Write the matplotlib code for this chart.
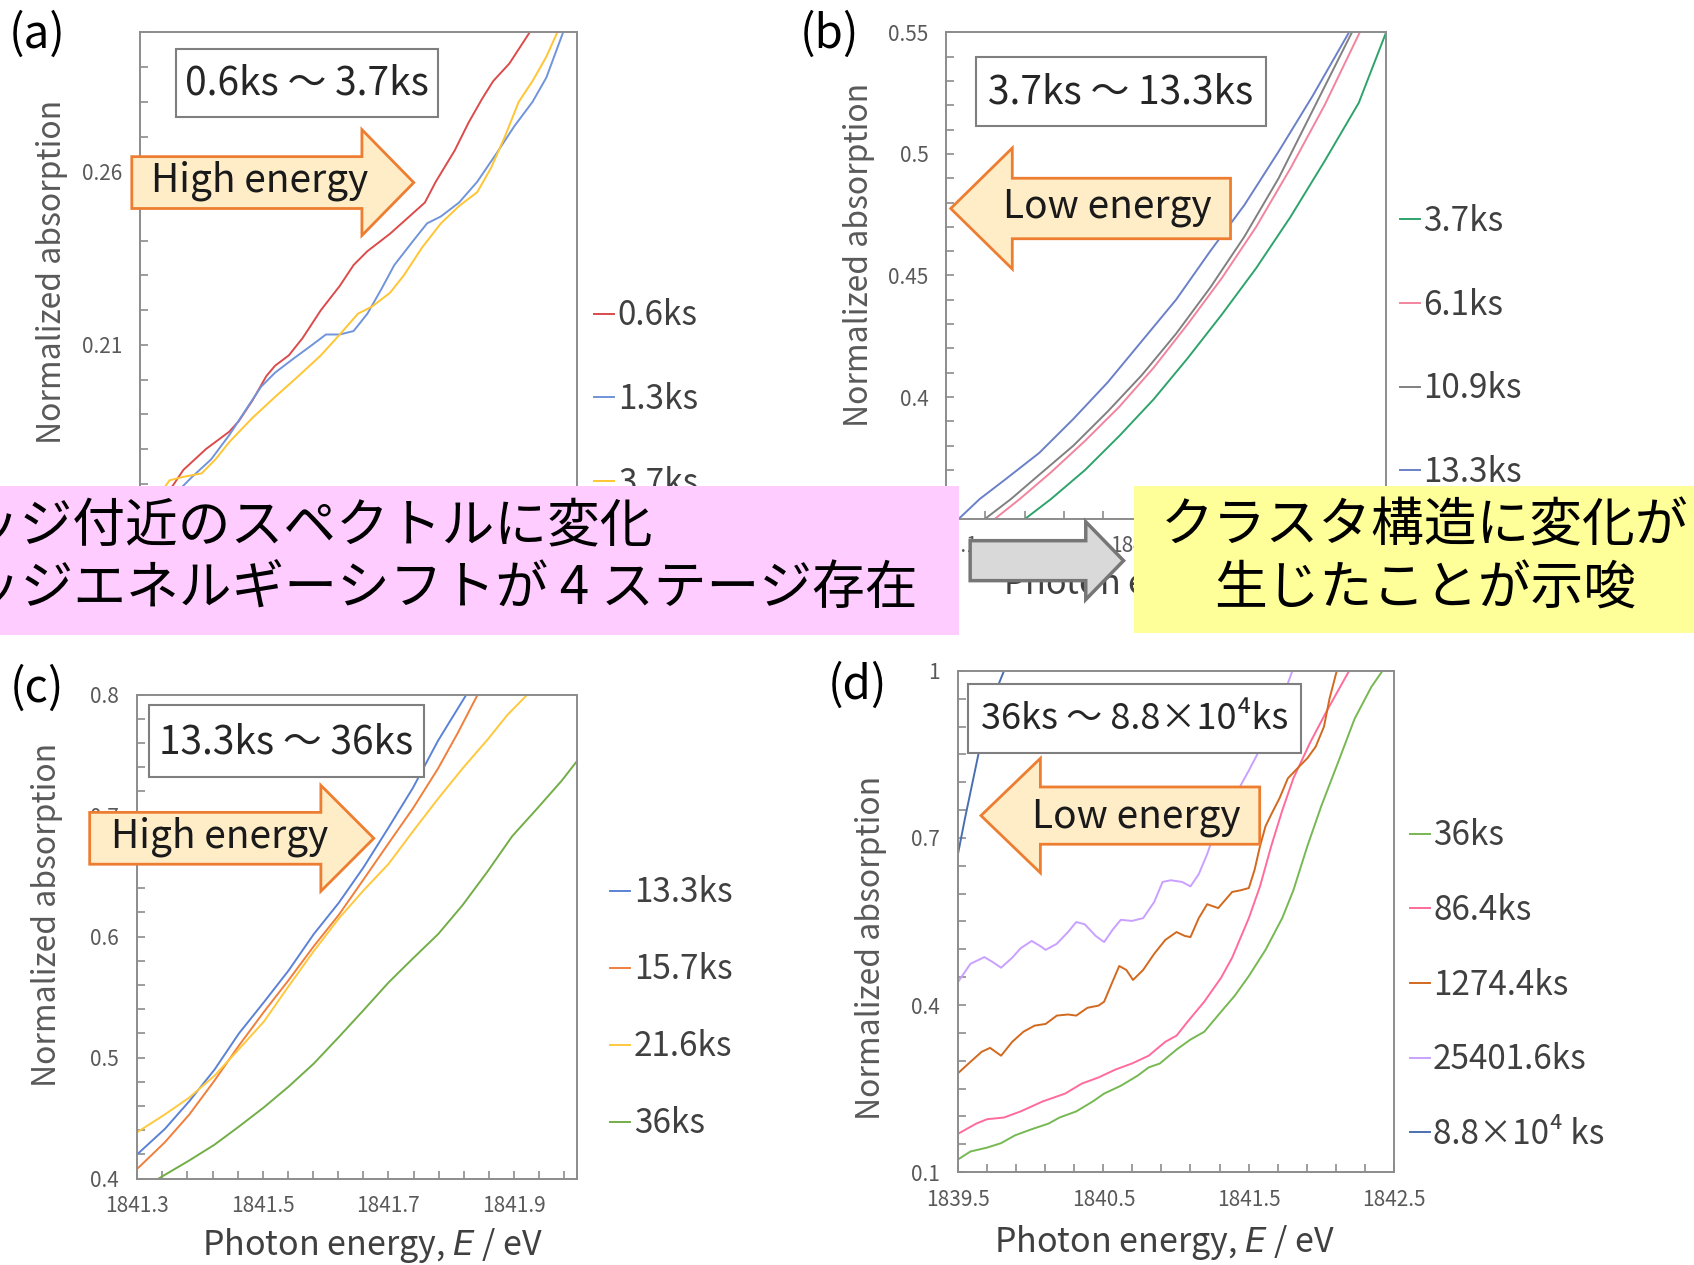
import matplotlib
matplotlib.use("Agg")
import matplotlib.pyplot as plt
import numpy as np
from matplotlib.patches import Rectangle, Polygon
from matplotlib.transforms import Affine2D

plt.rcParams['font.family'] = ['Noto Sans CJK JP', 'DejaVu Sans']
plt.rcParams['mathtext.fontset'] = 'dejavusans'

# ---------------------------------------------------------------- data ----
# (a) 0.6ks ~ 3.7ks
a_labels = ["0.6ks", "1.3ks", "3.7ks"]
a_colors = ["#DC4B4B", "#7094DB", "#FFC533"]
a_x_06 = [1840.913, 1840.943, 1840.959, 1840.990, 1841.022, 1841.035, 1841.054, 1841.073,
          1841.085, 1841.104, 1841.123, 1841.148, 1841.174, 1841.193, 1841.212, 1841.243,
          1841.275, 1841.291, 1841.306, 1841.332, 1841.351, 1841.370, 1841.385, 1841.407, 1841.435]
a_y_06 = [0.160, 0.169, 0.174, 0.180, 0.185, 0.188, 0.194, 0.201, 0.204, 0.207, 0.212, 0.220,
          0.227, 0.233, 0.237, 0.242, 0.248, 0.251, 0.257, 0.266, 0.274, 0.281, 0.286, 0.291, 0.300]
a_x_13 = [1840.915, 1840.952, 1840.971, 1840.997, 1841.022, 1841.047, 1841.066, 1841.085,
          1841.110, 1841.136, 1841.155, 1841.174, 1841.193, 1841.212, 1841.231, 1841.249,
          1841.275, 1841.294, 1841.313, 1841.338, 1841.363, 1841.389, 1841.414, 1841.439,
          1841.458, 1841.481]
a_y_13 = [0.160, 0.168, 0.172, 0.177, 0.184, 0.192, 0.198, 0.202, 0.206, 0.210, 0.213, 0.213,
          0.214, 0.219, 0.226, 0.233, 0.240, 0.245, 0.247, 0.251, 0.257, 0.265, 0.273, 0.280,
          0.287, 0.300]
a_x_37 = [1840.918, 1840.930, 1840.940, 1840.959, 1840.984, 1841.003, 1841.022, 1841.054,
          1841.085, 1841.117, 1841.148, 1841.174, 1841.199, 1841.218, 1841.243, 1841.262,
          1841.287, 1841.313, 1841.338, 1841.363, 1841.382, 1841.401, 1841.420, 1841.439,
          1841.458, 1841.473]
a_y_37 = [0.160, 0.168, 0.171, 0.172, 0.173, 0.177, 0.182, 0.189, 0.195, 0.201, 0.207, 0.213,
          0.219, 0.221, 0.225, 0.230, 0.238, 0.245, 0.250, 0.254, 0.261, 0.270, 0.280, 0.286,
          0.293, 0.300]

# (b) 3.7ks ~ 13.3ks
b_labels = ["3.7ks", "6.1ks", "10.9ks", "13.3ks"]
b_colors = ["#2EA36B", "#F2849E", "#808080", "#6A80C8"]
b_x_37 = [1841.181, 1841.207, 1841.242, 1841.277, 1841.312, 1841.347, 1841.382, 1841.417,
          1841.452, 1841.487, 1841.522, 1841.550]
b_y_37 = [0.350, 0.358, 0.370, 0.384, 0.399, 0.416, 0.434, 0.453, 0.474, 0.497, 0.521, 0.550]
b_x_61 = [1841.150, 1841.175, 1841.207, 1841.242, 1841.277, 1841.312, 1841.347, 1841.382,
          1841.417, 1841.452, 1841.487, 1841.523]
b_y_61 = [0.350, 0.358, 0.369, 0.382, 0.396, 0.412, 0.430, 0.449, 0.470, 0.494, 0.520, 0.550]
b_x_109 = [1841.140, 1841.166, 1841.195, 1841.230, 1841.265, 1841.300, 1841.335, 1841.370,
           1841.405, 1841.440, 1841.475, 1841.515]
b_y_109 = [0.350, 0.358, 0.368, 0.380, 0.394, 0.409, 0.426, 0.445, 0.466, 0.490, 0.518, 0.550]
b_x_133 = [1841.113, 1841.134, 1841.160, 1841.195, 1841.230, 1841.265, 1841.300, 1841.335,
           1841.370, 1841.405, 1841.440, 1841.475, 1841.512]
b_y_133 = [0.350, 0.358, 0.366, 0.377, 0.391, 0.406, 0.423, 0.440, 0.460, 0.479, 0.501,
           0.524, 0.550]

# (c) 13.3ks ~ 36ks
c_labels = ["13.3ks", "15.7ks", "21.6ks", "36ks"]
c_colors = ["#5B82D6", "#F07F3C", "#FFC83D", "#72AE48"]
c_x_133 = [1841.302, 1841.344, 1841.383, 1841.423, 1841.462, 1841.502, 1841.541, 1841.581,
           1841.621, 1841.660, 1841.700, 1841.739, 1841.779, 1841.824]
c_y_133 = [0.421, 0.441, 0.464, 0.490, 0.520, 0.546, 0.572, 0.602, 0.628, 0.657, 0.690,
           0.723, 0.762, 0.800]
c_x_157 = [1841.302, 1841.344, 1841.383, 1841.423, 1841.462, 1841.502, 1841.541, 1841.581,
           1841.621, 1841.660, 1841.700, 1841.739, 1841.779, 1841.810, 1841.842]
c_y_157 = [0.409, 0.430, 0.453, 0.481, 0.510, 0.538, 0.564, 0.592, 0.618, 0.647, 0.677,
           0.706, 0.739, 0.768, 0.800]
c_x_216 = [1841.302, 1841.344, 1841.383, 1841.423, 1841.462, 1841.502, 1841.541, 1841.581,
           1841.621, 1841.660, 1841.700, 1841.739, 1841.779, 1841.818, 1841.858, 1841.889,
           1841.921]
c_y_216 = [0.439, 0.453, 0.467, 0.485, 0.507, 0.530, 0.559, 0.588, 0.615, 0.638, 0.660,
           0.687, 0.714, 0.739, 0.763, 0.783, 0.800]
c_x_36 = [1841.334, 1841.383, 1841.423, 1841.462, 1841.502, 1841.541, 1841.581, 1841.621,
          1841.660, 1841.700, 1841.739, 1841.779, 1841.818, 1841.858, 1841.897, 1841.937,
          1841.976, 1842.000]
c_y_36 = [0.400, 0.415, 0.428, 0.443, 0.459, 0.476, 0.495, 0.517, 0.539, 0.562, 0.582,
          0.602, 0.626, 0.654, 0.683, 0.706, 0.729, 0.745]

# (d) 36ks ~ 8.8x10^4ks
d_labels = ["36ks", "86.4ks", "1274.4ks", "25401.6ks", "8.8\u00d710\u2074 ks"]
d_colors = ["#76B852", "#FF6B9A", "#D2691E", "#C9A0FF", "#4A6FB0"]
d_x_36 = [1839.500, 1839.584, 1839.699, 1839.795, 1839.891, 1840.006, 1840.121, 1840.198,
          1840.313, 1840.428, 1840.505, 1840.620, 1840.735, 1840.812, 1840.889, 1841.004,
          1841.100, 1841.195, 1841.311, 1841.406, 1841.502, 1841.617, 1841.732, 1841.809,
          1841.905, 1842.001, 1842.116, 1842.231, 1842.346, 1842.423]
d_y_36 = [0.123, 0.137, 0.144, 0.152, 0.166, 0.177, 0.187, 0.198, 0.209, 0.227, 0.241,
          0.255, 0.273, 0.288, 0.295, 0.320, 0.338, 0.352, 0.388, 0.417, 0.452, 0.499,
          0.556, 0.606, 0.685, 0.757, 0.835, 0.914, 0.971, 1.000]
d_x_864 = [1839.500, 1839.623, 1839.699, 1839.815, 1839.930, 1840.083, 1840.160, 1840.236,
           1840.352, 1840.467, 1840.582, 1840.697, 1840.812, 1840.927, 1841.004, 1841.080,
           1841.195, 1841.311, 1841.387, 1841.502, 1841.579, 1841.656, 1841.732, 1841.809,
           1841.924, 1842.039, 1842.193]
d_y_864 = [0.169, 0.187, 0.195, 0.198, 0.209, 0.227, 0.234, 0.241, 0.259, 0.270, 0.284,
           0.295, 0.309, 0.334, 0.345, 0.370, 0.406, 0.449, 0.485, 0.556, 0.613, 0.685,
           0.749, 0.807, 0.871, 0.928, 1.000]
d_x_1274 = [1839.500, 1839.584, 1839.661, 1839.719, 1839.795, 1839.872, 1839.949, 1840.026,
            1840.102, 1840.179, 1840.256, 1840.313, 1840.390, 1840.467, 1840.505, 1840.563,
            1840.609, 1840.658, 1840.704, 1840.774, 1840.850, 1840.927, 1841.004, 1841.061,
            1841.100, 1841.157, 1841.215, 1841.291, 1841.387, 1841.445, 1841.502, 1841.541,
            1841.579, 1841.617, 1841.656, 1841.713, 1841.771, 1841.848, 1841.905, 1841.963,
            1842.020, 1842.058, 1842.108]
d_y_1274 = [0.278, 0.298, 0.316, 0.323, 0.309, 0.334, 0.352, 0.363, 0.366, 0.381, 0.383,
            0.381, 0.395, 0.399, 0.406, 0.442, 0.470, 0.463, 0.445, 0.463, 0.492, 0.517,
            0.531, 0.524, 0.522, 0.556, 0.581, 0.574, 0.603, 0.606, 0.610, 0.642, 0.685,
            0.721, 0.742, 0.771, 0.807, 0.828, 0.843, 0.864, 0.900, 0.950, 1.000]
d_x_25401 = [1839.500, 1839.584, 1839.680, 1839.738, 1839.795, 1839.872, 1839.930, 1840.006,
             1840.064, 1840.102, 1840.179, 1840.256, 1840.313, 1840.371, 1840.447, 1840.505,
             1840.563, 1840.620, 1840.697, 1840.774, 1840.850, 1840.908, 1840.965, 1841.042,
             1841.100, 1841.157, 1841.215, 1841.272, 1841.349, 1841.426, 1841.502, 1841.560,
             1841.617, 1841.694, 1841.752, 1841.802]
d_y_25401 = [0.442, 0.474, 0.486, 0.477, 0.467, 0.485, 0.502, 0.515, 0.506, 0.499, 0.510,
             0.531, 0.549, 0.545, 0.524, 0.513, 0.535, 0.553, 0.551, 0.556, 0.585, 0.621,
             0.624, 0.621, 0.613, 0.635, 0.671, 0.714, 0.749, 0.785, 0.821, 0.850, 0.885,
             0.928, 0.964, 1.000]
d_x_88e4 = [1839.500, 1839.546, 1839.604, 1839.661, 1839.738, 1839.815]
d_y_88e4 = [0.674, 0.735, 0.807, 0.878, 0.950, 1.000]

# axis ticks
a_yticks, a_yticklabels = [0.16, 0.21, 0.26], ["0.16", "0.21", "0.26"]
a_xticks, a_xticklabels = [1840.9, 1841.1, 1841.3, 1841.5], ["1840.9", "1841.1", "1841.3", "1841.5"]
b_yticks, b_yticklabels = [0.35, 0.40, 0.45, 0.50, 0.55], ["0.35", "0.4", "0.45", "0.5", "0.55"]
b_xticks, b_xticklabels = [1841.1, 1841.3, 1841.5], ["1841.1", "1841.3", "1841.5"]
c_yticks, c_yticklabels = [0.4, 0.5, 0.6, 0.7, 0.8], ["0.4", "0.5", "0.6", "0.7", "0.8"]
c_xticks, c_xticklabels = [1841.3, 1841.5, 1841.7, 1841.9], ["1841.3", "1841.5", "1841.7", "1841.9"]
d_yticks, d_yticklabels = [0.1, 0.4, 0.7, 1.0], ["0.1", "0.4", "0.7", "1"]
d_xticks, d_xticklabels = [1839.5, 1840.5, 1841.5, 1842.5], ["1839.5", "1840.5", "1841.5", "1842.5"]

range_texts = ["0.6ks \uff5e 3.7ks", "3.7ks \uff5e 13.3ks", "13.3ks \uff5e 36ks",
               "36ks \uff5e 8.8\u00d710\u2074ks"]
pink_lines = ["\u30a8\u30c3\u30b8\u4ed8\u8fd1\u306e\u30b9\u30da\u30af\u30c8\u30eb\u306b\u5909\u5316",
              "\u30a8\u30c3\u30b8\u30a8\u30cd\u30eb\u30ae\u30fc\u30b7\u30d5\u30c8\u304c 4 \u30b9\u30c6\u30fc\u30b8\u5b58\u5728"]
yellow_lines = ["\u30af\u30e9\u30b9\u30bf\u69cb\u9020\u306b\u5909\u5316\u304c",
                "\u751f\u3058\u305f\u3053\u3068\u304c\u793a\u5506"]

# ---------------------------------------------------------------- layout ----
W, H = 1568, 1171          # layout units of the reference
SPINE = "#8C8C8C"
TICK = "#595959"


def frame(l, t, r, b):
    return [l / W, 1 - b / H, (r - l) / W, (b - t) / H]


fig = plt.figure(figsize=(16.94, 12.65), dpi=100)
px = Affine2D().scale(1 / W, -1 / H).translate(0, 1) + fig.transFigure


def setup(ax, xlim, ylim, xt, xtl, xminor, yt, ytl, yminor):
    ax.set_xlim(xlim)
    ax.set_ylim(ylim)
    ax.set_xticks(xt, xtl)
    ax.set_xticks(np.arange(xlim[0], xlim[1] + 1e-9, xminor), minor=True)
    ax.set_yticks(yt, ytl)
    ax.set_yticks(np.arange(ylim[0], ylim[1] + 1e-9, yminor), minor=True)
    for s in ax.spines.values():
        s.set_color(SPINE)
        s.set_linewidth(1.4)
    ax.tick_params(which='both', direction='in', length=6, width=1.2, color=SPINE,
                   labelsize=15, labelcolor=TICK)
    ax.tick_params(axis='y', pad=13)
    ax.tick_params(axis='x', pad=12)


def labels(ax, ylab_xy, xlab_xy):
    ax.set_ylabel("Normalized absorption", fontsize=23, color=TICK, va='center')
    ax.yaxis.set_label_coords(*ylab_xy)
    ax.set_xlabel("Photon energy, $\\mathit{E}$ / eV", fontsize=24.5, color="#404040",
                  va='center')
    ax.xaxis.set_label_coords(*xlab_xy)


def legend(ax, lines, names, anchor, spacing):
    ax.legend(lines, names, loc='center left', bbox_to_anchor=anchor, frameon=False,
              fontsize=24, labelcolor="#404040", handlelength=0.6, handletextpad=0.1,
              labelspacing=spacing, borderpad=0, borderaxespad=0)


LW = 1.4

# (a)
ax_a = fig.add_axes(frame(130, 30, 534, 480))
la = [ax_a.plot(x, y, color=c, lw=LW)[0] for x, y, c in
      zip([a_x_06, a_x_13, a_x_37], [a_y_06, a_y_13, a_y_37], a_colors)]
setup(ax_a, (1840.9, 1841.5), (0.16, 0.30), a_xticks, a_xticklabels, 0.04,
      a_yticks, a_yticklabels, 0.01)
labels(ax_a, (-0.203, 0.507), (0.5, -0.136))
legend(ax_a, la, a_labels, (1.04, 0.245), 1.46)

# (b)
ax_b = fig.add_axes(frame(876, 30, 1283, 480))
lb = [ax_b.plot(x, y, color=c, lw=LW)[0] for x, y, c in
      zip([b_x_37, b_x_61, b_x_109, b_x_133], [b_y_37, b_y_61, b_y_109, b_y_133], b_colors)]
setup(ax_b, (1841.1, 1841.55), (0.35, 0.55), b_xticks, b_xticklabels, 0.04,
      b_yticks, b_yticklabels, 0.01)
labels(ax_b, (-0.199, 0.542), (0.516, -0.136))
legend(ax_b, lb, b_labels, (1.032, 0.353), 1.46)

# (c)
ax_c = fig.add_axes(frame(127, 643, 534, 1091))
lc = [ax_c.plot(x, y, color=c, lw=LW)[0] for x, y, c in
      zip([c_x_133, c_x_157, c_x_216, c_x_36], [c_y_133, c_y_157, c_y_216, c_y_36], c_colors)]
setup(ax_c, (1841.3, 1842.0), (0.4, 0.8), c_xticks, c_xticklabels, 0.04,
      c_yticks, c_yticklabels, 0.02)
labels(ax_c, (-0.206, 0.545), (0.536, -0.138))
legend(ax_c, lc, c_labels, (1.076, 0.352), 1.26)

# (d)
ax_d = fig.add_axes(frame(887, 621, 1290, 1085))
ld = [ax_d.plot(x, y, color=c, lw=LW)[0] for x, y, c in
      zip([d_x_36, d_x_864, d_x_1274, d_x_25401, d_x_88e4],
          [d_y_36, d_y_864, d_y_1274, d_y_25401, d_y_88e4], d_colors)]
setup(ax_d, (1839.5, 1842.5), (0.1, 1.0), d_xticks, d_xticklabels, 0.2,
      d_yticks, d_yticklabels, 0.05)
labels(ax_d, (-0.201, 0.448), (0.474, -0.140))
legend(ax_d, ld, d_labels, (1.037, 0.373), 1.19)

# ---------------------------------------------------------- annotations ----
ORANGE_EDGE = "#ED7D31"
ORANGE_FILL = "#FFEDC8"


def block_arrow(x_tail, x_tip, yc, body_half, head_half, head_len, **kw):
    d = 1 if x_tip > x_tail else -1
    xb = x_tip - d * head_len
    pts = [(x_tail, yc - body_half), (xb, yc - body_half), (xb, yc - head_half), (x_tip, yc),
           (xb, yc + head_half), (xb, yc + body_half), (x_tail, yc + body_half)]
    fig.add_artist(Polygon(pts, closed=True, transform=px, **kw))


def boxed_text(l, t, r, b, text, size):
    fig.add_artist(Rectangle((l, b), r - l, t - b, transform=px, fc="white",
                             ec="#7F7F7F", lw=1.5, zorder=3))
    fig.text((l + r) / 2, (t + b) / 2 + 1, text, transform=px, ha='center', va='center',
             fontsize=size, color="#262626", zorder=3.5)


boxed_text(163, 45, 405, 108, range_texts[0], 28)
boxed_text(903, 53, 1172, 117, range_texts[1], 28)
boxed_text(138, 653, 392, 719, range_texts[2], 28)
boxed_text(896, 633, 1204, 697, range_texts[3], 26)

arrow_kw = dict(fc=ORANGE_FILL, ec=ORANGE_EDGE, lw=2, zorder=4)
block_arrow(122, 383, 169, 24, 49, 48, **arrow_kw)
block_arrow(1139, 880, 193, 28, 56, 57, **arrow_kw)
block_arrow(83, 346, 776, 24, 49, 49, **arrow_kw)
block_arrow(1166, 908, 755, 26.5, 53, 55, **arrow_kw)
for (x, y, s) in [(240, 167, "High energy"), (1025, 192, "Low energy"),
                  (203, 775, "High energy"), (1052, 756, "Low energy")]:
    fig.text(x, y, s, transform=px, ha='center', va='center', fontsize=28,
             color="#1A1A1A", zorder=4.5)

# summary boxes
fig.add_artist(Rectangle((-5, 450), 893, 138, transform=px, fc="#FFCCFF", ec="none", zorder=6))
fig.add_artist(Rectangle((1050, 450), 530, 136, transform=px, fc="#FFFF99", ec="none", zorder=6))
for y, s in zip([487, 545], pink_lines):
    fig.text(-79, y, s, transform=px, ha='left', va='center', fontsize=38,
             color="black", zorder=6.5)
for y, s in zip([487, 545], yellow_lines):
    fig.text(1319, y, s, transform=px, ha='center', va='center', fontsize=38,
             color="black", zorder=6.5)

block_arrow(898, 1040, 519, 18.5, 36, 35, fc="#D9D9D9", ec="#767676", lw=2.5, zorder=7)

# panel letters
for (x, y, s) in [(34, 32, "(a)"), (768, 32, "(b)"), (34, 637, "(c)"), (794, 635, "(d)")]:
    fig.text(x, y, s, transform=px, ha='center', va='center', fontsize=33, color="black")

fig.savefig("out.png", dpi=100)
